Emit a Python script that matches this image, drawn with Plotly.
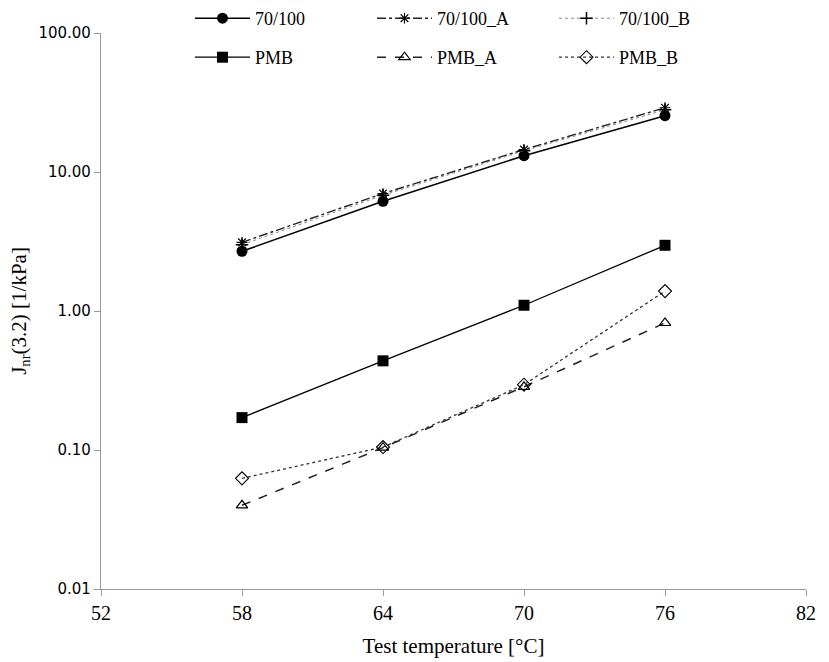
import plotly.graph_objects as go

temps = [58, 64, 70, 76]
s_70100 = [2.69, 6.15, 13.1, 25.4]
s_70100_A = [3.12, 7.0, 14.5, 29.0]
s_70100_B = [3.0, 6.8, 14.2, 28.0]
s_pmb = [0.171, 0.438, 1.10, 2.97]
s_pmb_A = [0.040, 0.104, 0.285, 0.82]
s_pmb_B = [0.0625, 0.105, 0.295, 1.39]

x_ticks = [52, 58, 64, 70, 76, 82]
y_ticks = [0.01, 0.1, 1, 10, 100]

FONT = "Liberation Serif"

series = [
    ("70/100", s_70100, dict(color="black", width=1.6, dash="solid"),
     dict(symbol="circle", size=11, color="black"), "legend"),
    ("70/100_A", s_70100_A, dict(color="#222", width=1.4, dash="dashdot"),
     dict(symbol="asterisk-open", size=9, color="black", line=dict(color="black", width=1.2)), "legend"),
    ("70/100_B", s_70100_B, dict(color="#888", width=1, dash="dot"),
     dict(symbol="cross-thin-open", size=9, color="black", line=dict(color="black", width=1.5)), "legend"),
    ("PMB", s_pmb, dict(color="black", width=1.3, dash="solid"),
     dict(symbol="square", size=11, color="black"), "legend2"),
    ("PMB_A", s_pmb_A, dict(color="#222", width=1.5, dash="dash"),
     dict(symbol="triangle-up-open", size=10, color="black", line=dict(color="black", width=1.2)), "legend2"),
    ("PMB_B", s_pmb_B, dict(color="#333", width=1.3, dash="dot"),
     dict(symbol="diamond-open", size=10, color="black", line=dict(color="#333", width=1.1)), "legend2"),
]

fig = go.Figure()
for name, vals, line, marker, leg in series:
    fig.add_trace(go.Scatter(x=temps, y=vals, name=name, mode="lines+markers",
                             line=line, marker=marker, legend=leg))

axis_common = dict(showgrid=False, zeroline=False, showline=True, linecolor="#999",
                   linewidth=1.2, ticks="outside", ticklen=6, tickcolor="#999")

legend_common = dict(orientation="h", xref="container", yref="container",
                     xanchor="left", yanchor="top", entrywidth=112, entrywidthmode="pixels",
                     itemwidth=55, font=dict(family=FONT, size=18), bgcolor="rgba(0,0,0,0)")

fig.update_layout(
    width=829, height=662,
    margin=dict(l=101, r=23, t=33, b=73, autoexpand=False),
    paper_bgcolor="white", plot_bgcolor="white",
    font=dict(family=FONT, color="black"),
    xaxis=dict(range=[52, 82], tickvals=x_ticks,
               tickfont=dict(family=FONT, size=20, color="black"),
               title=dict(text="Test temperature [°C]", font=dict(family=FONT, size=21), standoff=15),
               **axis_common),
    yaxis=dict(type="log", range=[-2, 2], tickvals=y_ticks, tickformat=".2f",
               tickfont=dict(family="DejaVu Sans", size=15, color="black"),
               title=dict(text="J<sub>nr</sub>(3.2) [1/kPa]", font=dict(family=FONT, size=21), standoff=6),
               **axis_common),
    legend=dict(x=190/829, y=1 - 0/662, **legend_common),
    legend2=dict(x=190/829, y=1 - 39/662, **legend_common),
)

fig.write_html("out.html")
